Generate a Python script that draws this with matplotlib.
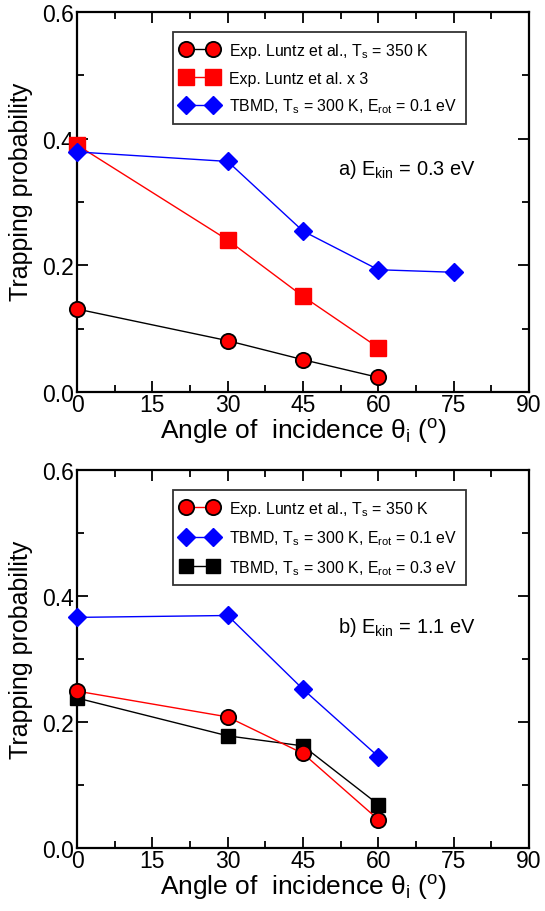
import numpy as np
import matplotlib
matplotlib.use("Agg")
import matplotlib.pyplot as plt
from matplotlib.ticker import MultipleLocator

plt.rcParams['font.family'] = ['Liberation Sans', 'DejaVu Sans']
plt.rcParams['mathtext.fontset'] = 'custom'
plt.rcParams['mathtext.rm'] = 'Liberation Sans'
plt.rcParams['mathtext.it'] = 'Liberation Sans:italic'
plt.rcParams['mathtext.sf'] = 'Liberation Sans'

# panel a) E_kin = 0.3 eV
a_exp_x = [0, 30, 45, 60]
a_exp_y = [0.131, 0.081, 0.051, 0.023]
a_exp3_x = [0, 30, 45, 60]
a_exp3_y = [0.39, 0.24, 0.151, 0.07]
a_tbmd_x = [0, 30, 45, 60, 75]
a_tbmd_y = [0.379, 0.364, 0.254, 0.193, 0.189]

# panel b) E_kin = 1.1 eV
b_exp_x = [0, 30, 45, 60]
b_exp_y = [0.249, 0.208, 0.15, 0.045]
b_tbmd1_x = [0, 30, 45, 60]
b_tbmd1_y = [0.366, 0.369, 0.252, 0.145]
b_tbmd3_x = [0, 30, 45, 60]
b_tbmd3_y = [0.238, 0.178, 0.162, 0.069]

xticks = [0, 15, 30, 45, 60, 75, 90]
yticks = [0.0, 0.2, 0.4, 0.6]

fig = plt.figure(figsize=(5.45, 9.12), dpi=100)
ax1 = fig.add_axes([0.1413, 0.5691, 0.8294, 0.4167])
ax2 = fig.add_axes([0.1413, 0.0691, 0.8294, 0.4145])


def style(ax):
    ax.set_xlim(0, 90)
    ax.set_ylim(0, 0.6)
    ax.set_xticks(xticks)
    ax.set_yticks(yticks)
    ax.set_yticklabels(['%.1f' % v for v in yticks])
    ax.xaxis.set_minor_locator(MultipleLocator(7.5))
    ax.yaxis.set_minor_locator(MultipleLocator(0.1))
    ax.tick_params(which='both', direction='in', top=True, right=True, labelsize=16.5, width=1.3)
    ax.tick_params(which='major', length=8)
    ax.tick_params(which='minor', length=5)
    ax.tick_params(axis='x', pad=1)
    ax.tick_params(axis='y', pad=2)
    for s in ax.spines.values():
        s.set_linewidth(1.6)
    ax.set_xlabel('Angle of  incidence θ$_{\\rm i}$ ($^{\\rm o}$)', fontsize=19, labelpad=0)
    ax.set_ylabel('Trapping probability', fontsize=18)
    ax.yaxis.set_label_coords(-0.097, 0.528)


def make_legend(ax):
    leg = ax.legend(loc='upper left', bbox_to_anchor=(0.212, 0.947), fontsize=11.4, numpoints=2,
                    handlelength=2.3, frameon=True, fancybox=False, edgecolor='black',
                    borderpad=0.55, labelspacing=0.68, handletextpad=0.7, borderaxespad=0)
    leg.get_frame().set_linewidth(1.3)


ax1.plot(a_exp_x, a_exp_y, color='black', lw=1, marker='o', ms=11, mfc='red', mec='black', mew=1.3,
         label=r'Exp. Luntz et al., T$_{\rm s}$ = 350 K', clip_on=False, zorder=5)
ax1.plot(a_exp3_x, a_exp3_y, color='red', lw=1, marker='s', ms=11, mfc='red', mec='red',
         label='Exp. Luntz et al. x 3', clip_on=False, zorder=4)
ax1.plot(a_tbmd_x, a_tbmd_y, color='blue', lw=1, marker='D', ms=9, mfc='blue', mec='blue',
         label=r'TBMD, T$_{\rm s}$ = 300 K, E$_{\rm rot}$ = 0.1 eV', clip_on=False, zorder=6)
style(ax1)
ax1.text(0.577, 0.574, r'a) E$_{\rm kin}$ = 0.3 eV', transform=ax1.transAxes, fontsize=14.4,
         va='baseline')
make_legend(ax1)

ax2.plot(b_exp_x, b_exp_y, color='red', lw=1, marker='o', ms=11, mfc='red', mec='black', mew=1.3,
         label=r'Exp. Luntz et al., T$_{\rm s}$ = 350 K', clip_on=False, zorder=5)
ax2.plot(b_tbmd1_x, b_tbmd1_y, color='blue', lw=1, marker='D', ms=9, mfc='blue', mec='blue',
         label=r'TBMD, T$_{\rm s}$ = 300 K, E$_{\rm rot}$ = 0.1 eV', clip_on=False, zorder=6)
ax2.plot(b_tbmd3_x, b_tbmd3_y, color='black', lw=1, marker='s', ms=10, mfc='black', mec='black',
         label=r'TBMD, T$_{\rm s}$ = 300 K, E$_{\rm rot}$ = 0.3 eV', clip_on=False, zorder=4)
style(ax2)
ax2.text(0.577, 0.572, r'b) E$_{\rm kin}$ = 1.1 eV', transform=ax2.transAxes, fontsize=14.4,
         va='baseline')
make_legend(ax2)

fig.savefig('out.png', dpi=100)
